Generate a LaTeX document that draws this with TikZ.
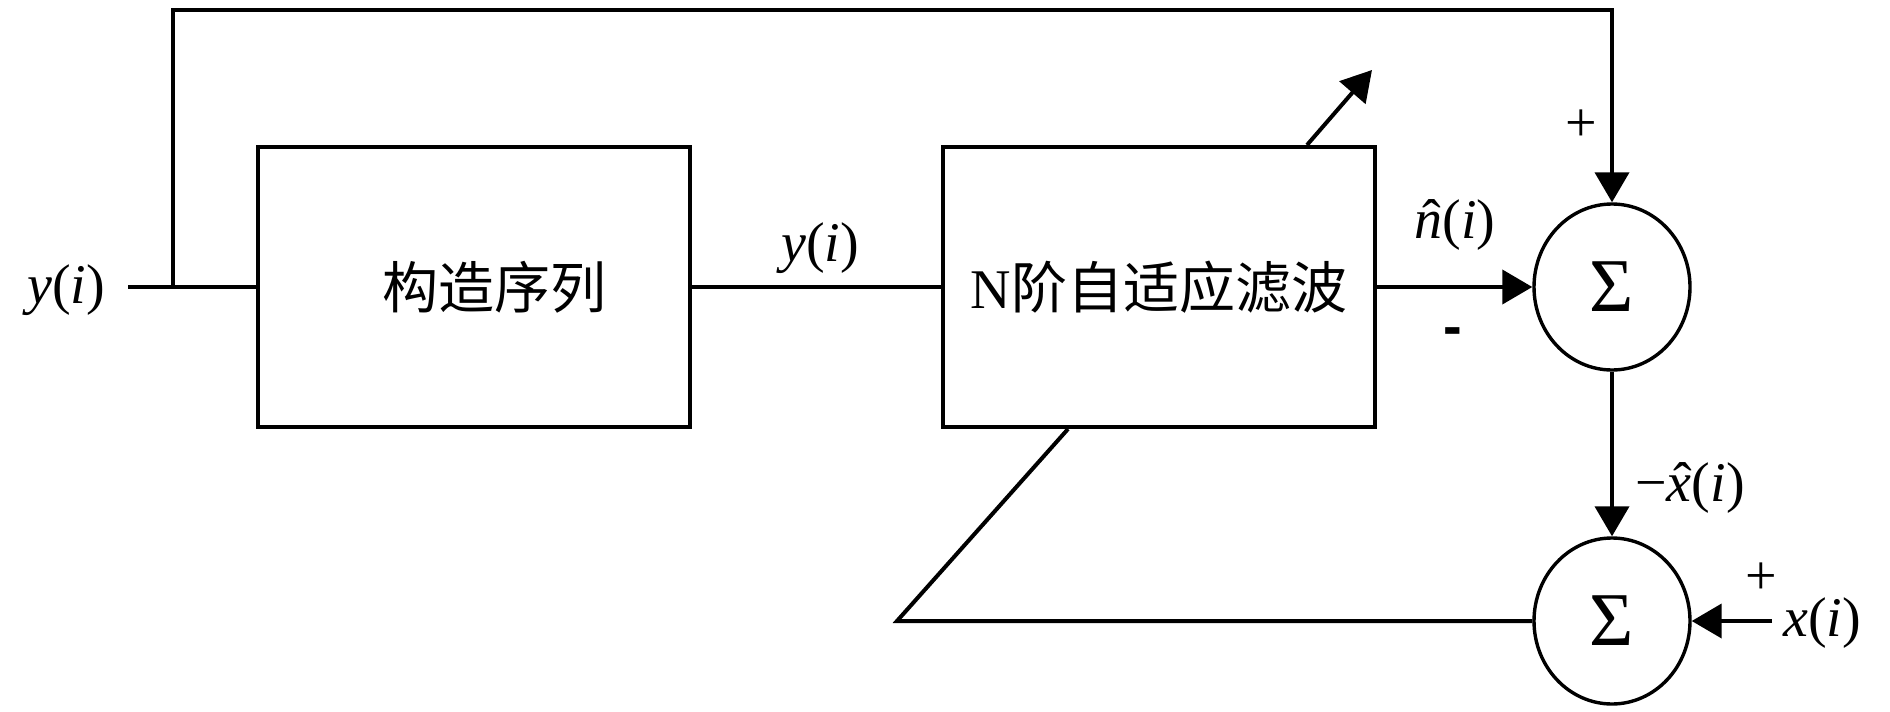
\documentclass[tikz,border=0pt]{standalone}
\usepackage{fontspec}
\setmainfont{Liberation Serif}
\setsansfont{Liberation Sans}
\newfontfamily\cjk{Noto Sans CJK SC}
\usetikzlibrary{arrows.meta,shapes.geometric}
\newcommand\hatit[1]{\ooalign{\itshape #1\cr\hidewidth\kern0.12em ˆ\hidewidth\cr}}
\tikzset{
  every node/.style={font=\fontsize{28}{32}\selectfont},
  block/.style={draw, rectangle, line width=2pt, minimum width=216pt, minimum height=140pt, inner sep=0pt},
  sumnode/.style={draw, ellipse, line width=1.7pt, minimum width=78pt, minimum height=83pt, inner sep=0pt, font=\fontsize{38}{40}\selectfont},
  wire/.style={line width=2pt},
  arrow/.style={wire, -{Triangle[length=15pt,width=17pt]}}
}
\begin{document}
\begin{tikzpicture}[x=0.5pt, y=-0.5pt]
\useasboundingbox (0,0) rectangle (1890,712);

% Blocks
\node[block] (seq) at (474,287) {\cjk\hspace*{20pt}构造序列};
\node[block] (filt) at (1159,287) {N{\cjk 阶自适应滤波}};

% Summing junctions
\node[sumnode] (sumA) at (1612,287) {Σ};
\node[sumnode] (sumB) at (1612,621) {Σ};

% Free ends
\coordinate (yin) at (128,287);
\coordinate (split) at (173,287);
\coordinate (xin) at (1772,621);
\coordinate (fbk) at (897,621);
\coordinate (adapt) at (1372,70);

% Labels
\node (lyin) at (66,290) {\textit{y}(\textit{i})};
\node (lymid) at (820,248) {\textit{y}(\textit{i})};
\node (lnhat) at (1455,225) {\hatit{n}(\textit{i})};
\node (lminus) at (1453,337) {\sffamily\bfseries -};
\node (lplusA) at (1581,126) {+};
\node (lxhat) at (1690,488) {−\hatit{x}(\textit{i})};
\node (lplusB) at (1761,579) {+};
\node (lxin) at (1822,623) {\textit{x}(\textit{i})};

% Signal path
\draw[wire] (yin) -- (seq.west);
\draw[arrow] (split) |- (1612,10) -- (sumA.north);
\draw[wire] (seq.east) -- (filt.west);
\draw[arrow] (filt.east) -- (sumA.west);
\draw[arrow] (sumA.south) -- (sumB.north);
\draw[arrow] (xin) -- (sumB.east);

% Error feedback to the filter
\draw[wire] (sumB.west) -- (fbk) -- ([xshift=-45.5pt]filt.south);
\draw[arrow] ([xshift=74pt]filt.north) -- (adapt);

\end{tikzpicture}
\end{document}
